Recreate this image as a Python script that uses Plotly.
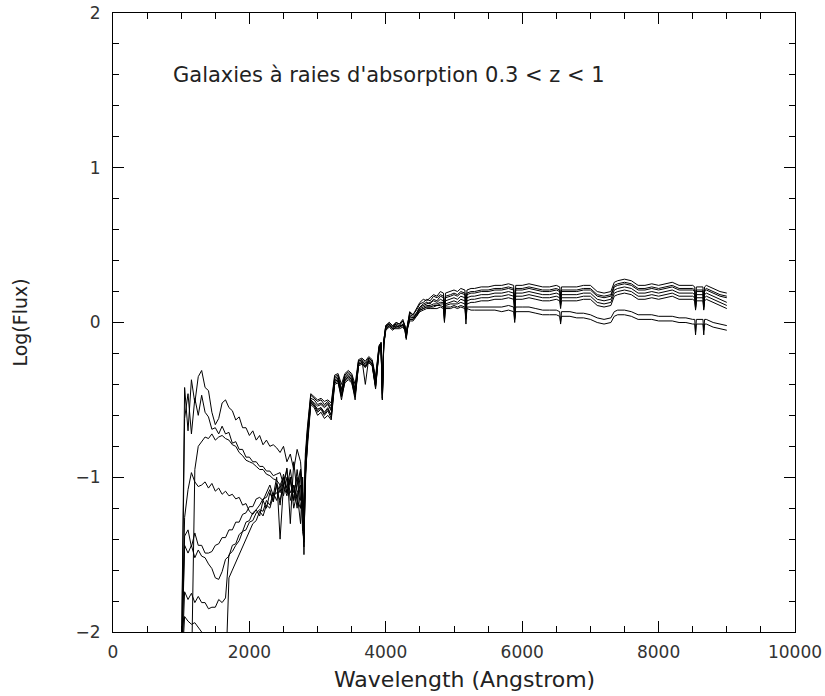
import plotly.graph_objects as go

# Shared wavelength grid (Angstrom)
wl_uv = [1000, 1050, 1100, 1150, 1200, 1250, 1300, 1350, 1400, 1450, 1500, 1550,
         1600, 1650, 1700, 1750, 1800, 1850, 1900, 1950, 2000, 2050, 2100, 2150,
         2200, 2250, 2300, 2350, 2400, 2450, 2500, 2550, 2600, 2650, 2700]
wl_mid = [2750, 2780, 2800, 2820, 2850, 2900, 2950, 3000, 3050, 3100, 3150, 3200,
          3250, 3300, 3350, 3400, 3450, 3500, 3550, 3600, 3650, 3700, 3750, 3800,
          3850, 3900, 3930, 3950, 3970, 4000, 4050, 4100]
wl_red = [4150, 4200, 4250, 4280, 4300, 4320, 4350, 4400, 4450, 4500,
          4550, 4600, 4650, 4700, 4750, 4800, 4845, 4860, 4875, 4950,
          5000, 5050, 5100, 5160, 5175, 5190, 5250, 5300, 5400, 5500,
          5600, 5700, 5800, 5875, 5890, 5905, 6000, 6100, 6200, 6300,
          6400, 6500, 6550, 6563, 6576, 6700, 6800, 6900, 7000, 7100,
          7200, 7300, 7350, 7400, 7500, 7600, 7700, 7800, 7900, 8000,
          8100, 8200, 8300, 8400, 8500, 8530, 8542, 8554, 8650, 8662,
          8674, 8700, 8800, 8900, 9000]
wavelength = wl_uv + wl_mid + wl_red

# log(flux) of each galaxy spectrum on that grid (None = no coverage)
spec_a = ([-2.3, -0.42, -0.7, -0.37, -0.52, -0.35, -0.31, -0.42, -0.44, -0.58, -0.66, -0.62,
           -0.52, -0.5, -0.55, -0.57, -0.63, -0.61, -0.68, -0.68, -0.73, -0.7, -0.76, -0.73,
           -0.79, -0.76, -0.8, -0.79, -0.81, -0.84, -0.8, -0.9, -0.85, -0.95, -0.82]
          + [-0.9, -1.1, -1.25, -0.85, -0.68, -0.46, -0.48, -0.5, -0.49, -0.51, -0.5, -0.52,
             -0.34, -0.33, -0.4, -0.33, -0.31, -0.33, -0.4, -0.24, -0.23, -0.25, -0.22, -0.24,
             -0.35, -0.15, -0.13, -0.42, -0.12, -0.02, 0.0, -0.02]
          + [0.0, -0.01, 0.02, -0.02, -0.07, 0.0, 0.07, 0.05, 0.09, 0.13,
             0.15, 0.14, 0.16, 0.18, 0.17, 0.2, 0.19, 0.04, 0.19, 0.2,
             0.21, 0.2, 0.22, 0.21, 0.05, 0.21, 0.22, 0.22, 0.23, 0.23,
             0.24, 0.24, 0.25, 0.24, 0.06, 0.24, 0.24, 0.25, 0.24, 0.23,
             0.23, 0.24, 0.23, 0.16, 0.23, 0.23, 0.23, 0.24, 0.24, 0.2,
             0.19, 0.2, 0.26, 0.27, 0.28, 0.27, 0.24, 0.24, 0.25, 0.24,
             0.25, 0.26, 0.24, 0.24, 0.24, 0.23, 0.12, 0.23, 0.23, 0.13,
             0.23, 0.24, 0.22, 0.2, 0.19])
spec_b = ([-2.3, -0.62, -0.46, -0.72, -0.49, -0.6, -0.47, -0.58, -0.61, -0.69, -0.68, -0.72,
           -0.67, -0.72, -0.71, -0.78, -0.77, -0.82, -0.82, -0.87, -0.87, -0.9, -0.9, -0.93,
           -0.93, -0.96, -0.96, -0.99, -0.98, -0.97, -1.05, -0.94, -1.3, -0.9, -1.1]
          + [-1.05, -1.3, -1.45, -1.0, -0.78, -0.52, -0.54, -0.58, -0.56, -0.6, -0.57, -0.62,
             -0.39, -0.38, -0.5, -0.38, -0.36, -0.38, -0.5, -0.27, -0.26, -0.29, -0.25, -0.27,
             -0.43, -0.18, -0.15, -0.5, -0.14, -0.04, -0.02, -0.04]
          + [-0.02, -0.03, -0.01, -0.04, -0.08, -0.03, 0.04, 0.03, 0.06, 0.1,
             0.12, 0.13, 0.12, 0.15, 0.14, 0.17, 0.16, 0.1, 0.16, 0.17,
             0.18, 0.17, 0.19, 0.18, 0.1, 0.18, 0.19, 0.19, 0.2, 0.2,
             0.21, 0.21, 0.22, 0.21, 0.15, 0.21, 0.21, 0.22, 0.21, 0.2,
             0.2, 0.21, 0.2, 0.15, 0.2, 0.2, 0.2, 0.21, 0.21, 0.17,
             0.16, 0.17, 0.23, 0.24, 0.25, 0.24, 0.21, 0.21, 0.22, 0.21,
             0.22, 0.23, 0.21, 0.21, 0.21, 0.2, 0.11, 0.2, 0.2, 0.12,
             0.2, 0.21, 0.19, 0.17, 0.16])
spec_c = ([None, None, None, -2.3, -0.95, -0.8, -0.77, -0.74, -0.75, -0.72, -0.76, -0.74,
           -0.73, -0.75, -0.76, -0.79, -0.8, -0.84, -0.86, -0.89, -0.9, -0.91, -0.93, -0.95,
           -0.95, -0.98, -0.99, -1.01, -1.02, -1.05, -1.0, -1.1, -1.0, -1.15, -0.95]
          + [-1.15, -1.0, -1.5, -0.9, -0.72, -0.49, -0.5, -0.53, -0.52, -0.54, -0.52, -0.56,
             -0.36, -0.35, -0.44, -0.35, -0.33, -0.35, -0.44, -0.25, -0.24, -0.4, -0.23, -0.25,
             -0.38, -0.16, -0.13, -0.5, -0.12, -0.02, -0.01, -0.03]
          + [-0.01, -0.02, 0.01, -0.03, -0.1, -0.01, 0.05, 0.04, 0.06, 0.1,
             0.11, 0.12, 0.13, 0.14, 0.13, 0.15, 0.14, 0.01, 0.14, 0.15,
             0.16, 0.15, 0.17, 0.16, 0.02, 0.16, 0.17, 0.17, 0.18, 0.18,
             0.19, 0.19, 0.2, 0.19, 0.03, 0.19, 0.19, 0.2, 0.19, 0.18,
             0.18, 0.19, 0.18, 0.12, 0.18, 0.18, 0.18, 0.19, 0.19, 0.15,
             0.14, 0.15, 0.21, 0.22, 0.23, 0.22, 0.19, 0.19, 0.2, 0.19,
             0.2, 0.21, 0.19, 0.19, 0.19, 0.18, 0.09, 0.18, 0.18, 0.1,
             0.18, 0.19, 0.17, 0.15, 0.13])
spec_d = ([-2.3, -1.26, -1.08, -0.97, -1.03, -1.06, -1.05, -1.03, -1.07, -1.04, -1.09, -1.07,
           -1.11, -1.09, -1.12, -1.11, -1.14, -1.13, -1.18, -1.17, -1.22, -1.24, -1.21, -1.18,
           -1.14, -1.13, -1.08, -1.16, -1.04, -1.1, -0.98, -1.07, -0.95, -1.1, -1.0]
          + [-1.2, -1.1, -1.3, -0.98, -0.8, -0.53, -0.55, -0.6, -0.58, -0.62, -0.6, -0.63,
             -0.4, -0.39, -0.48, -0.39, -0.37, -0.39, -0.48, -0.28, -0.27, -0.29, -0.26, -0.28,
             -0.42, -0.19, -0.16, -0.49, -0.15, -0.05, -0.03, -0.05]
          + [-0.03, -0.03, -0.02, -0.05, -0.11, -0.03, 0.02, 0.02, 0.05, 0.08,
             0.09, 0.1, 0.1, 0.1, 0.11, 0.11, 0.1, 0.0, 0.1, 0.1,
             0.11, 0.1, 0.11, 0.1, -0.01, 0.1, 0.1, 0.1, 0.1, 0.1,
             0.1, 0.1, 0.11, 0.1, 0.02, 0.1, 0.1, 0.1, 0.09, 0.08,
             0.08, 0.08, 0.07, -0.01, 0.07, 0.07, 0.06, 0.06, 0.05, 0.03,
             0.02, 0.03, 0.07, 0.08, 0.08, 0.07, 0.05, 0.05, 0.05, 0.04,
             0.04, 0.04, 0.03, 0.03, 0.02, 0.02, -0.06, 0.02, 0.02, -0.05,
             0.02, 0.02, 0.0, -0.01, -0.02])
spec_e = ([-2.3, -1.38, -1.34, -1.45, -1.36, -1.44, -1.44, -1.49, -1.49, -1.48, -1.44, -1.43,
           -1.39, -1.39, -1.34, -1.34, -1.29, -1.29, -1.24, -1.23, -1.19, -1.19, -1.14, -1.13,
           -1.15, -1.1, -1.05, -1.12, -1.0, -1.4, -1.05, -0.95, -1.15, -1.05, -1.2]
          + [-0.95, -1.35, -1.4, -1.05, -0.77, -0.51, -0.53, -0.56, -0.55, -0.58, -0.55, -0.6,
             -0.38, -0.37, -0.47, -0.37, -0.35, -0.37, -0.47, -0.27, -0.26, -0.28, -0.25, -0.27,
             -0.41, -0.18, -0.15, -0.47, -0.14, -0.04, -0.02, -0.04]
          + [-0.02, -0.03, -0.01, -0.03, -0.08, -0.02, 0.03, 0.03, 0.05, 0.09,
             0.1, 0.11, 0.11, 0.12, 0.12, 0.13, 0.13, 0.08, 0.12, 0.13,
             0.14, 0.13, 0.15, 0.14, 0.08, 0.14, 0.15, 0.15, 0.16, 0.16,
             0.17, 0.17, 0.18, 0.17, 0.12, 0.17, 0.17, 0.18, 0.17, 0.16,
             0.16, 0.17, 0.16, 0.11, 0.16, 0.16, 0.16, 0.17, 0.17, 0.13,
             0.12, 0.13, 0.19, 0.2, 0.21, 0.2, 0.17, 0.17, 0.18, 0.17,
             0.18, 0.19, 0.17, 0.17, 0.17, 0.16, 0.09, 0.16, 0.16, 0.09,
             0.16, 0.17, 0.15, 0.13, 0.11])
spec_f = ([-2.3, -1.44, -1.49, -1.44, -1.52, -1.47, -1.51, -1.52, -1.56, -1.59, -1.65, -1.66,
           -1.61, -1.53, -1.51, -1.44, -1.43, -1.37, -1.35, -1.29, -1.28, -1.23, -1.21, -1.25,
           -1.15, -1.2, -1.1, -1.15, -1.05, -1.18, -1.0, -1.1, -1.0, -1.2, -1.1]
          + [-1.3, -1.0, -1.4, -0.95, -0.73, -0.5, -0.52, -0.54, -0.53, -0.55, -0.53, -0.57,
             -0.37, -0.36, -0.46, -0.36, -0.34, -0.36, -0.45, -0.26, -0.25, -0.27, -0.24, -0.26,
             -0.39, -0.17, -0.14, -0.46, -0.13, -0.03, -0.01, -0.03]
          + [0.0, -0.01, 0.01, -0.02, -0.06, 0.0, 0.06, 0.05, 0.08, 0.12,
             0.13, 0.15, 0.14, 0.17, 0.16, 0.18, 0.17, 0.12, 0.17, 0.18,
             0.19, 0.18, 0.2, 0.19, 0.13, 0.19, 0.2, 0.2, 0.21, 0.21,
             0.22, 0.22, 0.23, 0.22, 0.04, 0.22, 0.22, 0.23, 0.22, 0.21,
             0.21, 0.22, 0.21, 0.15, 0.21, 0.21, 0.21, 0.22, 0.22, 0.18,
             0.17, 0.18, 0.24, 0.25, 0.26, 0.25, 0.22, 0.22, 0.23, 0.22,
             0.23, 0.24, 0.22, 0.22, 0.22, 0.21, 0.1, 0.21, 0.21, 0.11,
             0.21, 0.22, 0.2, 0.18, 0.17])
spec_g = ([-2.3, -1.74, -1.79, -1.75, -1.81, -1.77, -1.81, -1.81, -1.85, -1.84, -1.84, -1.79,
           -1.81, -1.78, -1.5, -1.48, -1.44, -1.41, -1.35, -1.34, -1.29, -1.28, -1.23, -1.21,
           -1.22, -1.15, -1.18, -1.1, -1.15, -1.05, -1.12, -1.0, -1.1, -1.05, -1.15]
          + [-1.2, -1.15, -1.42, -1.0, -0.76, -0.51, -0.53, -0.57, -0.55, -0.59, -0.56, -0.6,
             -0.38, -0.37, -0.47, -0.37, -0.35, -0.37, -0.47, -0.27, -0.26, -0.28, -0.25, -0.27,
             -0.41, -0.18, -0.15, -0.49, -0.14, -0.04, -0.02, -0.04]
          + [-0.04, -0.04, -0.03, -0.05, -0.1, -0.04, 0.01, 0.01, 0.04, 0.07,
             0.08, 0.09, 0.09, 0.09, 0.09, 0.1, 0.09, 0.02, 0.09, 0.09,
             0.1, 0.09, 0.1, 0.09, 0.03, 0.09, 0.08, 0.08, 0.08, 0.08,
             0.08, 0.07, 0.08, 0.07, 0.0, 0.07, 0.07, 0.07, 0.06, 0.05,
             0.05, 0.05, 0.04, 0.0, 0.04, 0.04, 0.03, 0.03, 0.02, 0.0,
             -0.01, 0.0, 0.04, 0.05, 0.05, 0.04, 0.02, 0.02, 0.02, 0.01,
             0.01, 0.01, 0.0, 0.0, -0.01, -0.01, -0.08, -0.01, -0.01, -0.08,
             -0.01, -0.01, -0.03, -0.04, -0.05])
spec_h = ([-2.3, -1.9, -1.93, -1.95, -1.94, -1.97, -2.0, -2.05, -2.15, -2.3, -2.4, -2.45,
           -2.4, -2.3, -1.65, -1.6, -1.55, -1.5, -1.45, -1.4, -1.35, -1.3, -1.28, -1.22,
           -1.25, -1.18, -1.2, -1.12, -1.1, -1.15, -1.05, -1.12, -1.02, -1.15, -1.05]
          + [-0.95, -1.2, -1.3, -0.9, -0.7, -0.47, -0.49, -0.51, -0.5, -0.53, -0.51, -0.54,
             -0.35, -0.34, -0.43, -0.34, -0.32, -0.34, -0.43, -0.25, -0.24, -0.26, -0.23, -0.25,
             -0.37, -0.16, -0.13, -0.44, -0.12, -0.02, 0.0, -0.02]
          + [-0.03, -0.02, -0.02, -0.04, -0.09, -0.03, 0.02, 0.02, 0.04, 0.08,
             0.09, 0.1, 0.1, 0.11, 0.11, 0.12, 0.12, 0.05, 0.11, 0.12,
             0.12, 0.12, 0.13, 0.12, 0.06, 0.12, 0.13, 0.13, 0.14, 0.14,
             0.15, 0.15, 0.16, 0.15, 0.1, 0.15, 0.15, 0.16, 0.15, 0.14,
             0.14, 0.15, 0.14, 0.09, 0.14, 0.14, 0.14, 0.15, 0.15, 0.11,
             0.1, 0.11, 0.17, 0.18, 0.19, 0.18, 0.15, 0.15, 0.16, 0.15,
             0.16, 0.17, 0.15, 0.15, 0.15, 0.14, 0.08, 0.14, 0.14, 0.08,
             0.14, 0.15, 0.13, 0.11, 0.09])

spectra = [spec_a, spec_b, spec_c, spec_d, spec_e, spec_f, spec_g, spec_h]
for s in spectra:
    assert len(s) == len(wavelength), (len(s), len(wavelength))

x_ticks = [0, 2000, 4000, 6000, 8000, 10000]
y_ticks = [-2, -1, 0, 1, 2]
y_tick_text = ["\u22122", "\u22121", "0", "1", "2"]

title_text = "Galaxies à raies d'absorption 0.3 < z < 1"
x_title = "Wavelength (Angstrom)"
y_title = "Log(Flux)"

fig = go.Figure()
for s in spectra:
    fig.add_trace(go.Scatter(x=wavelength, y=s, mode="lines",
                             line=dict(color="black", width=1),
                             connectgaps=False, showlegend=False,
                             hoverinfo="skip"))

font_fam = "DejaVu Sans"
axis_common = dict(showline=True, linecolor="black", linewidth=1, mirror="allticks",
                   ticks="inside", tickcolor="black", tickwidth=1, ticklen=11,
                   showgrid=False, zeroline=False, automargin=False,
                   tickfont=dict(family=font_fam, size=17, color="#333333"))

fig.update_xaxes(range=[0, 10000], tickvals=x_ticks, ticktext=[str(v) for v in x_ticks],
                 minor=dict(dtick=500, ticks="inside", ticklen=6, tickcolor="black", showgrid=False),
                 ticklabelstandoff=5,
                 **axis_common)
fig.update_yaxes(range=[-2, 2], tickvals=y_ticks, ticktext=y_tick_text,
                 minor=dict(dtick=0.2, ticks="inside", ticklen=6, tickcolor="black", showgrid=False),
                 title=dict(text=y_title, font=dict(family=font_fam, size=19, color="#222222"),
                            standoff=42),
                 ticklabelstandoff=8,
                 **axis_common)

fig.add_annotation(x=850, y=1.6, xref="x", yref="y", text=title_text, showarrow=False,
                   xanchor="left", yanchor="middle",
                   font=dict(family=font_fam, size=21, color="#222222"))
fig.add_annotation(x=0.515, y=-0.076, xref="paper", yref="paper", text=x_title,
                   showarrow=False, xanchor="center", yanchor="middle",
                   font=dict(family=font_fam, size=22, color="#222222"))

fig.update_layout(template="none", width=825, height=696,
                  margin=dict(l=113, r=30, t=13, b=64, autoexpand=False),
                  plot_bgcolor="white", paper_bgcolor="white")

fig.write_html("out.html")
